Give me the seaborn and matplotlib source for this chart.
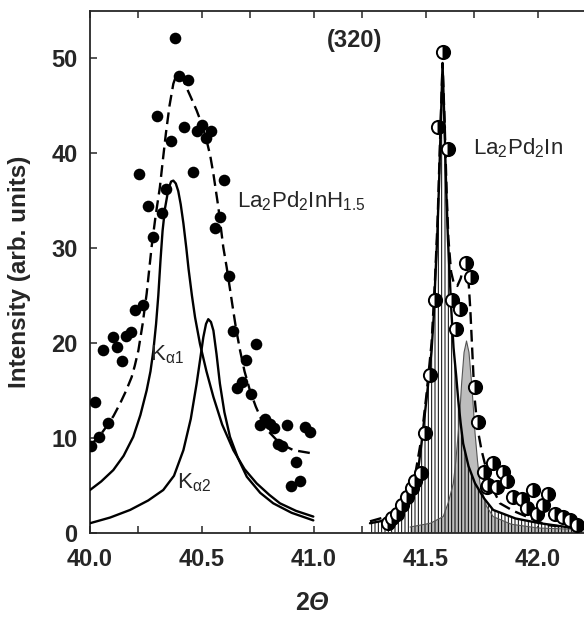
import numpy as np
import pandas as pd
import matplotlib
matplotlib.use("Agg")
import matplotlib.pyplot as plt
import seaborn as sns

# ==========================================
# Data
# ==========================================

# La2Pd2InH1.5 : measured points (filled)
hyd_x = [40.003, 40.022, 40.041, 40.060, 40.082, 40.101, 40.122, 40.141, 40.161, 40.181,
         40.201, 40.220, 40.238, 40.260, 40.280, 40.300, 40.320, 40.339, 40.360, 40.379,
         40.399, 40.421, 40.439, 40.461, 40.479, 40.498, 40.518, 40.540, 40.558, 40.580,
         40.598, 40.621, 40.637, 40.658, 40.678, 40.696, 40.719, 40.739, 40.759, 40.781,
         40.804, 40.821, 40.841, 40.859, 40.878, 40.897, 40.920, 40.938, 40.960, 40.982]
hyd_y = [9.1, 13.8, 10.1, 19.2, 11.6, 20.6, 19.6, 18.1, 20.7, 21.1,
         23.5, 37.8, 24.0, 34.4, 31.2, 43.9, 33.7, 36.2, 41.3, 52.1,
         48.1, 42.7, 47.7, 38.0, 42.3, 43.0, 41.6, 42.3, 32.1, 33.3,
         37.2, 27.1, 21.3, 15.3, 15.9, 18.2, 14.6, 19.9, 11.3, 12.0,
         11.5, 11.0, 9.3, 9.1, 11.4, 4.9, 7.5, 5.4, 11.1, 10.6]

# La2Pd2InH1.5 : total fit (dashed)
hyd_fit_x = [40.000, 40.040, 40.074, 40.105, 40.134, 40.160, 40.186, 40.200, 40.216, 40.235,
             40.253, 40.275, 40.293, 40.312, 40.325, 40.339, 40.355, 40.372, 40.385, 40.399,
             40.415, 40.431, 40.450, 40.476, 40.500, 40.521, 40.537, 40.551, 40.573, 40.595,
             40.610, 40.637, 40.652, 40.670, 40.690, 40.714, 40.740, 40.766, 40.800, 40.848,
             40.908, 40.982]
hyd_fit_y = [9.2, 10.1, 11.2, 12.3, 13.6, 14.9, 16.4, 17.6, 19.2, 22.0,
             25.2, 30.1, 33.4, 36.4, 39.2, 42.1, 45.0, 47.3, 48.2, 48.3,
             47.8, 46.9, 45.9, 44.5, 43.0, 41.3, 39.7, 37.8, 34.3, 30.1,
             28.0, 23.8, 21.5, 19.2, 17.0, 15.0, 13.3, 11.9, 10.6, 9.4,
             8.7, 8.4]

# La2Pd2InH1.5 : K-alpha1 component
hyd_ka1_x = [40.000, 40.050, 40.104, 40.150, 40.193, 40.225, 40.253, 40.270, 40.283, 40.295,
             40.305, 40.315, 40.324, 40.335, 40.350, 40.362, 40.372, 40.383, 40.394, 40.405,
             40.417, 40.430, 40.440, 40.455, 40.469, 40.491, 40.520, 40.551, 40.590, 40.640,
             40.690, 40.744, 40.800, 40.848, 40.920, 40.997]
hyd_ka1_y = [4.5, 5.4, 6.6, 8.1, 10.1, 12.4, 15.0, 17.0, 19.2, 22.0,
             25.0, 28.8, 31.8, 34.2, 36.2, 37.0, 37.1, 36.8, 36.0, 34.6,
             32.6, 30.0, 27.8, 25.0, 22.7, 19.9, 17.0, 14.3, 11.4, 8.7,
             6.7, 5.2, 4.0, 3.1, 2.3, 1.7]

# La2Pd2InH1.5 : K-alpha2 component
hyd_ka2_x = [40.000, 40.090, 40.179, 40.260, 40.327, 40.375, 40.417, 40.450, 40.476, 40.492,
             40.506, 40.518, 40.528, 40.540, 40.551, 40.565, 40.580, 40.600, 40.625, 40.660,
             40.700, 40.760, 40.818, 40.900, 40.997]
hyd_ka2_y = [1.0, 1.6, 2.4, 3.4, 4.5, 6.0, 8.7, 12.0, 15.7, 18.3,
             20.6, 22.0, 22.5, 22.2, 21.3, 18.8, 15.7, 12.7, 10.1, 7.9,
             5.9, 4.2, 3.1, 2.1, 1.3]

# La2Pd2In : measured points (half filled)
int_x = [41.332, 41.347, 41.369, 41.391, 41.414, 41.436, 41.451, 41.476, 41.496, 41.518,
         41.540, 41.555, 41.577, 41.600, 41.614, 41.636, 41.654, 41.679, 41.701, 41.719,
         41.734, 41.759, 41.771, 41.778, 41.798, 41.815, 41.845, 41.860, 41.890, 41.927,
         41.949, 41.979, 41.994, 42.024, 42.046, 42.076, 42.113, 42.143, 42.173]
int_y = [1.0, 1.5, 2.0, 2.9, 3.8, 4.7, 5.5, 6.3, 10.5, 16.6,
         24.5, 42.8, 50.6, 40.4, 24.5, 21.5, 23.6, 28.4, 26.9, 15.4,
         11.7, 6.4, 4.8, 5.0, 7.3, 4.8, 6.4, 5.5, 3.8, 3.6,
         2.6, 4.5, 2.0, 2.9, 4.1, 2.0, 1.7, 1.3, 0.8]

# La2Pd2In : total fit (dashed)
int_fit_x = [41.250, 41.340, 41.384, 41.420, 41.451, 41.480, 41.502, 41.525, 41.540, 41.552,
             41.565, 41.574, 41.583, 41.592, 41.600, 41.612, 41.625, 41.640, 41.655, 41.668,
             41.678, 41.690, 41.698, 41.706, 41.716, 41.730, 41.748, 41.770, 41.790, 41.830,
             41.890, 41.949, 42.040, 42.230]
int_fit_y = [1.2, 1.8, 2.6, 4.0, 6.0, 10.0, 14.5, 20.0, 26.5, 33.0,
             43.0, 49.5, 43.5, 36.0, 31.0, 27.5, 26.2, 26.0, 26.8, 28.0,
             28.2, 26.5, 23.5, 19.5, 14.5, 11.0, 8.7, 6.6, 5.0, 3.1,
             2.3, 1.7, 0.8, 0.4]

# La2Pd2In : K-alpha1 component (hatched)
int_ka1_x = [41.250, 41.295, 41.340, 41.384, 41.420, 41.451, 41.467, 41.480, 41.490, 41.502,
             41.515, 41.525, 41.535, 41.542, 41.550, 41.558, 41.566, 41.574, 41.582, 41.590,
             41.598, 41.606, 41.613, 41.623, 41.635, 41.644, 41.655, 41.666, 41.690, 41.719,
             41.760, 41.800, 41.900, 42.009, 42.156, 42.230]
int_ka1_y = [1.0, 1.2, 1.5, 2.0, 3.2, 5.2, 7.0, 9.4, 11.5, 14.0,
             16.8, 19.2, 23.0, 27.0, 31.0, 36.5, 43.0, 49.4, 43.5, 36.5,
             31.0, 27.0, 23.5, 19.5, 16.5, 14.0, 11.5, 9.4, 7.0, 5.2,
             3.6, 2.4, 1.5, 1.0, 0.5, 0.4]

# La2Pd2In : K-alpha2 component (grey)
int_ka2_x = [41.429, 41.520, 41.577, 41.600, 41.622, 41.633, 41.644, 41.652, 41.659, 41.670,
             41.681, 41.692, 41.704, 41.712, 41.719, 41.730, 41.741, 41.770, 41.800, 41.880,
             42.000, 42.230]
int_ka2_y = [0.6, 1.0, 1.7, 3.2, 5.2, 7.5, 10.5, 13.0, 15.7, 19.0,
             20.2, 19.0, 15.7, 13.0, 10.5, 7.6, 5.2, 2.8, 1.7, 0.9,
             0.5, 0.3]

tick_pos = [40.0, 40.214, 40.5, 40.714, 41.0, 41.214, 41.5, 41.714, 42.0]
tick_lab = ['40.0', '', '40.5', '', '41.0', '', '41.5', '', '42.0']
ytick_pos = [0, 10, 20, 30, 40, 50]

# ==========================================
# Style
# ==========================================
sns.set_style("ticks")
plt.rcParams['font.family'] = ['Liberation Sans', 'DejaVu Sans']
plt.rcParams['mathtext.fontset'] = 'custom'
plt.rcParams['mathtext.rm'] = 'Liberation Sans'
plt.rcParams['mathtext.it'] = 'Liberation Sans:italic'
plt.rcParams['mathtext.bf'] = 'Liberation Sans:bold'
plt.rcParams['mathtext.bfit'] = 'Liberation Sans:bold:italic'
plt.rcParams['hatch.linewidth'] = 0.7

fig = plt.figure(figsize=(5.84, 6.17), dpi=100)
ax = fig.add_axes([0.1541, 0.1366, 0.8553, 0.846])

lw = 1.7

# --- right part: La2Pd2In ---
ax.fill_between(int_ka2_x, 0, int_ka2_y, facecolor='#bdbdbd', edgecolor='none', zorder=1)
ax.fill_between(int_ka1_x, 0, int_ka1_y, facecolor='none', edgecolor='black',
                hatch='|||||', linewidth=0, zorder=2)
sns.lineplot(x=int_ka2_x, y=int_ka2_y, color='#555555', lw=0.8, estimator=None, ax=ax, zorder=3)
sns.lineplot(x=int_ka1_x, y=int_ka1_y, color='black', lw=lw, estimator=None, ax=ax, zorder=3)
sns.lineplot(x=int_fit_x, y=int_fit_y, color='black', lw=lw, linestyle=(0, (5, 2.5)),
             estimator=None, ax=ax, zorder=3)
ax.plot(int_x, int_y, linestyle='none', marker='o', markersize=9.5, fillstyle='right',
        markerfacecolor='black', markerfacecoloralt='white', markeredgecolor='black',
        markeredgewidth=1.4, zorder=4)

# --- left part: La2Pd2InH1.5 ---
sns.lineplot(x=hyd_ka1_x, y=hyd_ka1_y, color='black', lw=lw, estimator=None, ax=ax, zorder=3)
sns.lineplot(x=hyd_ka2_x, y=hyd_ka2_y, color='black', lw=lw, estimator=None, ax=ax, zorder=3)
sns.lineplot(x=hyd_fit_x, y=hyd_fit_y, color='black', lw=lw, linestyle=(0, (5, 2.5)),
             estimator=None, ax=ax, zorder=3)
sns.scatterplot(x=hyd_x, y=hyd_y, color='black', s=70, edgecolor='black', linewidth=0,
                ax=ax, zorder=4)

# --- labels inside ---
ax.text(41.179, 51.9, '(320)', fontsize=17, fontweight='bold', ha='center', va='center')
ax.text(40.656, 34.3, r'La$_2$Pd$_2$InH$_{1.5}$', fontsize=16, ha='left', va='baseline')
ax.text(41.710, 39.9, r'La$_2$Pd$_2$In', fontsize=16, ha='left', va='baseline')
ax.text(40.268, 18.2, r'K$_{\mathrm{\alpha 1}}$', fontsize=16, ha='left', va='baseline')
ax.text(40.387, 4.7, r'K$_{\mathrm{\alpha 2}}$', fontsize=16, ha='left', va='baseline')

# --- axes ---
ax.set_xlim(40.0, 42.23)
ax.set_ylim(0, 55)
ax.set_xticks(tick_pos)
ax.set_xticklabels(tick_lab)
ax.set_yticks(ytick_pos)
ax.tick_params(axis='both', direction='in', length=5, width=1.1, labelsize=17, top=True,
               right=False)
ax.tick_params(axis='x', pad=11)
ax.tick_params(axis='y', pad=9)
for lab in ax.get_xticklabels() + ax.get_yticklabels():
    lab.set_fontweight('bold')
for sp in ax.spines.values():
    sp.set_linewidth(1.3)

ax.set_xlabel(r'$\mathbf{2}\mathbfit{\Theta}$', fontsize=18)
ax.xaxis.set_label_coords(0.446, -0.112)
ax.set_ylabel('Intensity (arb. units)', fontsize=17.5, fontweight='bold')
ax.yaxis.set_label_coords(-0.118, 0.5)

fig.savefig('out.png', dpi=100)
